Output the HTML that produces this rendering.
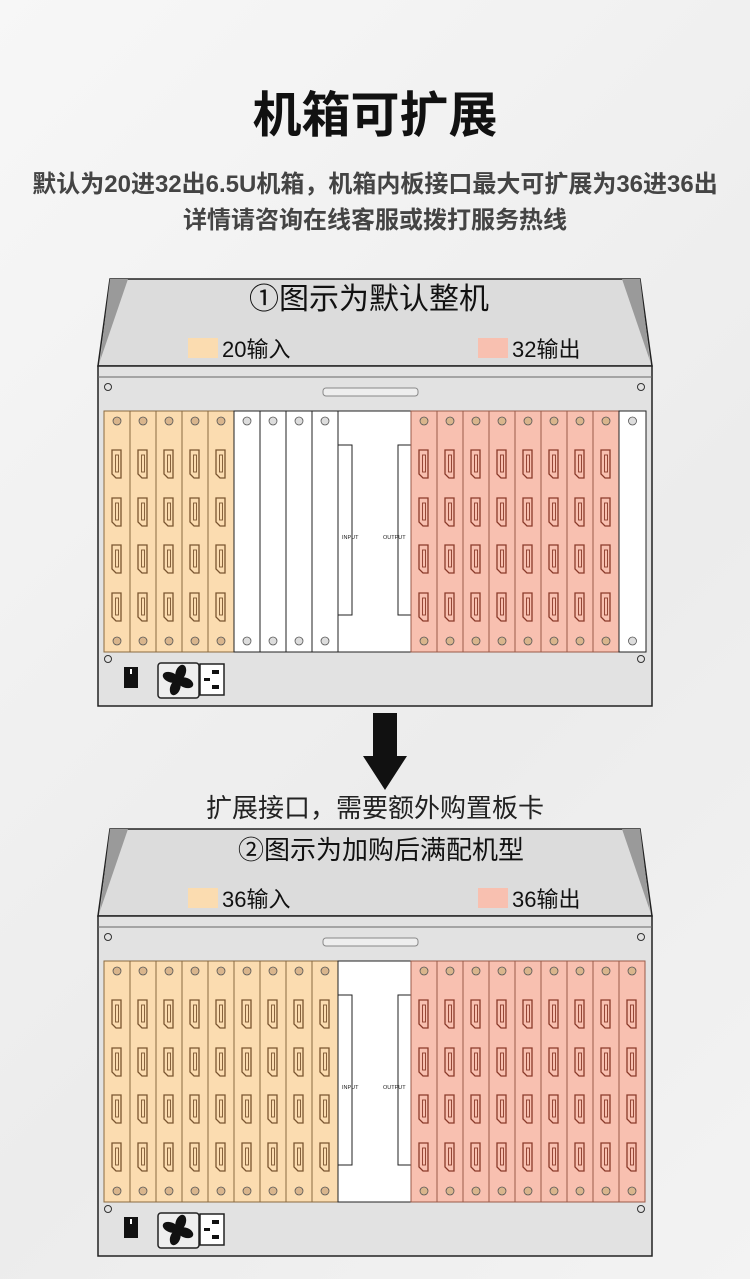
<!DOCTYPE html>
<html><head><meta charset="utf-8"><style>
html,body{margin:0;padding:0}
body{width:750px;height:1279px;overflow:hidden;background:linear-gradient(135deg,#f7f7f7 0%,#ececec 60%,#f3f3f3 100%);font-family:"Liberation Sans","Noto Sans CJK SC",sans-serif;position:relative}
.t{position:absolute;left:0;width:750px;text-align:center;color:#222;white-space:nowrap}
svg{position:absolute;left:0;top:0}
</style></head><body>
<div class="t" style="top:76px;font-size:49px;font-weight:bold;color:#111">机箱可扩展</div>
<div class="t" style="top:164px;font-size:24px;font-weight:bold;color:#444">默认为20进32出6.5U机箱，机箱内板接口最大可扩展为36进36出</div>
<div class="t" style="top:200px;font-size:24px;font-weight:bold;color:#444">详情请咨询在线客服或拨打服务热线</div>
<div class="t" style="top:788px;font-size:26px;color:#222">扩展接口，需要额外购置板卡</div>
<svg id="s" width="750" height="1279" xmlns="http://www.w3.org/2000/svg" font-family="Liberation Sans, Noto Sans CJK SC, sans-serif"></svg>
<script>
var s=document.getElementById('s'),h='';
function port(x,y,c){return '<path d="M'+(x-5)+' '+(y-14)+' h9 v28 h-5 l-4 -4 v-20 z" fill="none" stroke="'+c+'" stroke-width="1.3"/><rect x="'+(x-1.5)+'" y="'+(y-9)+'" width="3" height="17" fill="none" stroke="'+c+'" stroke-width="0.9"/>';}
function slot(x,y,w,hh,fill,st,pc,ports){var r='<rect x="'+x+'" y="'+y+'" width="'+w+'" height="'+hh+'" fill="'+fill+'" stroke="'+st+'" stroke-width="1"/>';var cx=x+w/2;
r+='<circle cx="'+cx+'" cy="'+(y+10)+'" r="4" fill="'+(ports?'#d9b58c':'#ddd')+'" stroke="#555" stroke-width="0.8"/>';
r+='<circle cx="'+cx+'" cy="'+(y+hh-11)+'" r="4" fill="'+(ports?'#d9b58c':'#ddd')+'" stroke="#555" stroke-width="0.8"/>';
if(ports){[53,101,148,196].forEach(function(d){r+=port(cx,y+d,pc)})}return r;}
function unit(y0,title,tx,tfs,lin,lout,nIn,nWhite,nOut,nWhite2){
 var ly=y0, cy=y0+87, ch=340;
 h+='<polygon points="98,'+cy+' 110,'+ly+' 640,'+ly+' 652,'+cy+'" fill="#dcdcdc" stroke="#222" stroke-width="1.5"/>';
 h+='<polygon points="110,'+ly+' 128,'+ly+' 100,'+(cy-5)+'" fill="#9a9a9a"/>';
 h+='<polygon points="640,'+ly+' 622,'+ly+' 650,'+(cy-5)+'" fill="#9a9a9a"/>';
 h+='<text x="'+tx+'" y="'+(ly+30)+'" font-size="'+tfs+'" text-anchor="middle" fill="#111">'+title+'</text>';
 h+='<rect x="188" y="'+(ly+59)+'" width="30" height="20" fill="#fbdcb0"/><text x="222" y="'+(ly+78)+'" font-size="22" fill="#111">'+lin+'</text>';
 h+='<rect x="478" y="'+(ly+59)+'" width="30" height="20" fill="#f8c0b0"/><text x="512" y="'+(ly+78)+'" font-size="22" fill="#111">'+lout+'</text>';
 h+='<rect x="98" y="'+cy+'" width="554" height="'+ch+'" fill="#e2e2e2" stroke="#222" stroke-width="1.5"/>';
 h+='<line x1="98" y1="'+(cy+11)+'" x2="652" y2="'+(cy+11)+'" stroke="#666"/>';
 h+='<circle cx="108" cy="'+(cy+21)+'" r="3.5" fill="none" stroke="#333"/><circle cx="641" cy="'+(cy+21)+'" r="3.5" fill="none" stroke="#333"/>';
 h+='<rect x="323" y="'+(cy+22)+'" width="95" height="8" rx="3" fill="#eee" stroke="#888"/>';
 var sy=cy+45, sh=241, x=104;
 for(var i=0;i<nIn;i++){h+=slot(x,sy,26,sh,'#fbdcb0','#8a6a40','#7a5530',1);x+=26;}
 for(i=0;i<nWhite;i++){h+=slot(x,sy,26,sh,'#fff','#222','',0);x+=26;}
 h+='<rect x="338" y="'+sy+'" width="73" height="'+sh+'" fill="#fff" stroke="#222"/>';
 h+='<path d="M338 '+(sy+34)+' h14 v170 h-14 M411 '+(sy+34)+' h-13 v170 h13" fill="none" stroke="#222"/>';
 h+='<text x="342" y="'+(sy+128)+'" font-size="5.5" fill="#222">INPUT</text><text x="383" y="'+(sy+128)+'" font-size="5.5" fill="#222">OUTPUT</text>';
 x=411;
 for(i=0;i<nOut;i++){h+=slot(x,sy,26,sh,'#f8c0b0','#9a5a48','#8a3a2a',1);x+=26;}
 for(i=0;i<nWhite2;i++){h+=slot(x,sy,27,sh,'#fff','#222','',0);x+=27;}
 var by=sy+sh;
 h+='<circle cx="108" cy="'+(by+7)+'" r="3.5" fill="none" stroke="#333"/><circle cx="641" cy="'+(by+7)+'" r="3.5" fill="none" stroke="#333"/>';
 h+='<rect x="124" y="'+(by+15)+'" width="14" height="21" fill="#111"/><rect x="130" y="'+(by+17)+'" width="2" height="5" fill="#fff"/>';
 h+='<rect x="158" y="'+(by+11)+'" width="41" height="35" rx="3" fill="#eee" stroke="#222" stroke-width="1.5"/>';
 var fx=178,fy=by+28;
 for(var k=0;k<4;k++){h+='<ellipse cx="'+fx+'" cy="'+(fy-8)+'" rx="5" ry="8" fill="#111" transform="rotate('+(k*90+20)+' '+fx+' '+fy+')"/>';}
 h+='<rect x="200" y="'+(by+12)+'" width="24" height="31" fill="#fff" stroke="#222" stroke-width="1.5"/>';
 h+='<rect x="212" y="'+(by+18)+'" width="7" height="4" fill="#111"/><rect x="212" y="'+(by+33)+'" width="7" height="4" fill="#111"/><rect x="204" y="'+(by+26)+'" width="6" height="3" fill="#111"/>';
}
unit(279,'①图示为默认整机',369,30,'20输入','32输出',5,4,8,1);
unit(829,'②图示为加购后满配机型',381,26,'36输入','36输出',9,0,9,0);
h+='<polygon points="373,713 397,713 397,756 407,756 385,790 363,756 373,756" fill="#111"/>';
s.innerHTML=h;
</script>
</body></html>
